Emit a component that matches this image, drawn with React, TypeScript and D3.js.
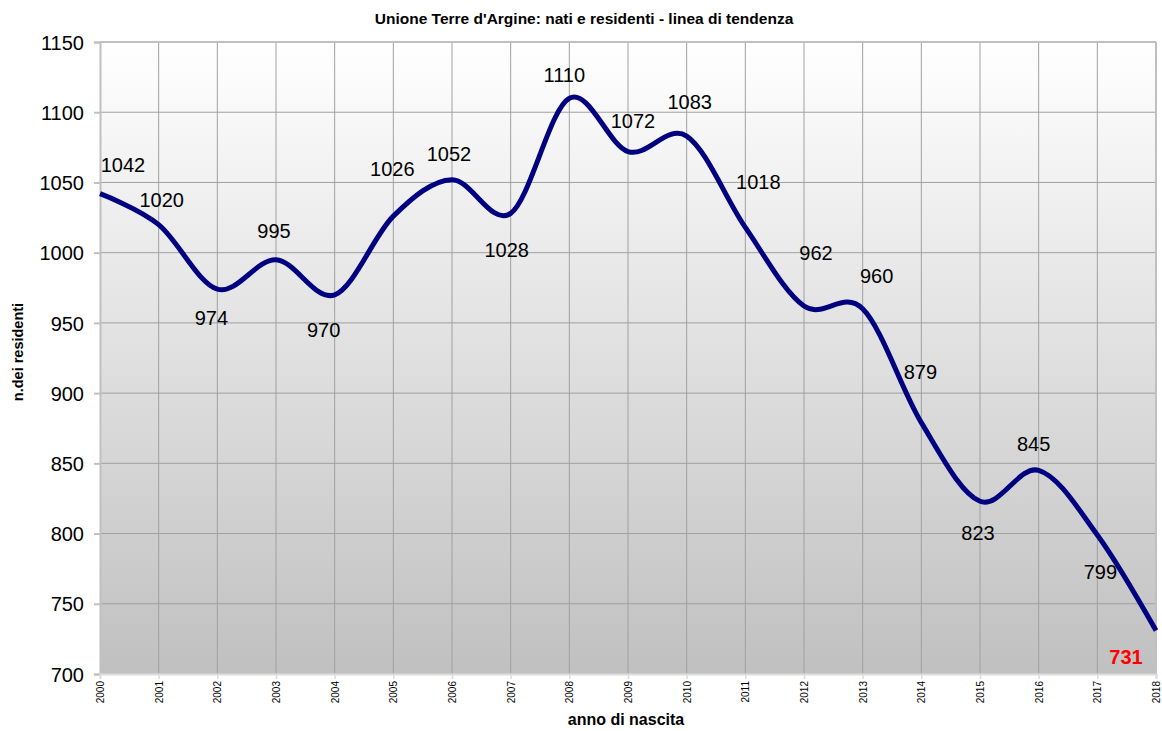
import React, { useEffect, useRef } from 'react';
import * as d3 from 'd3';

// Data
const years = [2000, 2001, 2002, 2003, 2004, 2005, 2006, 2007, 2008, 2009, 2010, 2011, 2012, 2013, 2014, 2015, 2016, 2017, 2018];
const residents = [1042, 1020, 974, 995, 970, 1026, 1052, 1028, 1110, 1072, 1083, 1018, 962, 960, 879, 823, 845, 799, 731];
const yTicks = [700, 750, 800, 850, 900, 950, 1000, 1050, 1100, 1150];

// where each value label sits relative to its point (dx, dy)
const labelOffsets = [
  [23, -22], [3, -18], [-6, 36], [-2, -22], [-11, 42], [-1, -40], [-3, -19],
  [-4, 44], [-5, -16], [5, -24], [3, -27], [13, -38], [12, -46], [14, -26],
  [-1, -44], [-2, 39], [-5, -19], [3, 44], [-30, 34]
];

const App = () => {
  const chartRef = useRef<SVGSVGElement>(null);

  useEffect(() => {
    const margin = { top: 42, right: 6, bottom: 57, left: 100 };
    const W = 1162;
    const H = 731;
    const width = W - margin.left - margin.right;
    const height = H - margin.top - margin.bottom;
    const font = 'Arial, "Liberation Sans", sans-serif';

    const root = d3.select(chartRef.current);
    root.selectAll('*').remove();

    const defs = root.append('defs');
    const grad = defs.append('linearGradient')
      .attr('id', 'bg')
      .attr('x1', 0).attr('y1', 0).attr('x2', 0).attr('y2', 1);
    grad.append('stop').attr('offset', '0%').attr('stop-color', '#ffffff');
    grad.append('stop').attr('offset', '100%').attr('stop-color', '#c0c0c0');

    const svg = root.append('g')
      .attr('transform', `translate(${margin.left},${margin.top})`);

    const x = d3.scaleLinear().domain([2000, 2018]).range([0, width]);
    const y = d3.scaleLinear().domain([700, 1150]).range([height, 0]);

    // Plot background
    svg.append('rect')
      .attr('width', width)
      .attr('height', height)
      .attr('fill', 'url(#bg)');

    // Grid
    svg.append('g')
      .selectAll('line')
      .data(years.slice(1, -1))
      .enter()
      .append('line')
      .attr('x1', d => x(d)).attr('x2', d => x(d))
      .attr('y1', 0).attr('y2', height)
      .attr('stroke', '#a0a0a0')
      .attr('stroke-width', 1);

    svg.append('g')
      .selectAll('line')
      .data(yTicks.slice(1, -1))
      .enter()
      .append('line')
      .attr('x1', 0).attr('x2', width)
      .attr('y1', d => y(d)).attr('y2', d => y(d))
      .attr('stroke', '#a0a0a0')
      .attr('stroke-width', 1);

    // Border
    svg.append('line').attr('x1', 0).attr('x2', width).attr('y1', 0).attr('y2', 0)
      .attr('stroke', '#c0c0c0').attr('stroke-width', 2);
    svg.append('line').attr('x1', width).attr('x2', width).attr('y1', 0).attr('y2', height)
      .attr('stroke', '#c0c0c0').attr('stroke-width', 2);

    // Y axis
    const yAxis = svg.append('g')
      .call(d3.axisLeft(y).tickValues(yTicks).tickFormat(d3.format('d')).tickSize(6).tickPadding(10));
    yAxis.select('.domain').attr('stroke', '#c0c0c0').attr('stroke-width', 2);
    yAxis.selectAll('line').attr('stroke', '#c0c0c0').attr('stroke-width', 2);
    yAxis.selectAll('text')
      .attr('fill', '#000')
      .attr('font-family', font)
      .attr('font-size', '20px')
      .attr('dy', '0.36em');

    // X axis
    const xAxis = svg.append('g')
      .attr('transform', `translate(0,${height})`)
      .call(d3.axisBottom(x).tickValues(years).tickFormat(d3.format('d')).tickSize(5));
    xAxis.select('.domain').attr('stroke', '#dcdcdc').attr('stroke-width', 2);
    xAxis.selectAll('line').attr('stroke', '#dcdcdc').attr('stroke-width', 1.5);
    xAxis.selectAll('text')
      .attr('fill', '#000')
      .attr('font-family', font)
      .attr('font-size', '10px')
      .attr('transform', 'rotate(-90)')
      .attr('text-anchor', 'end')
      .attr('x', -7)
      .attr('y', 0)
      .attr('dy', '0.35em');

    // Line
    const line = d3.line<number>()
      .x((d, i) => x(years[i]))
      .y(d => y(d))
      .curve(d3.curveCardinal.tension(0));

    svg.append('path')
      .datum(residents)
      .attr('d', line)
      .attr('fill', 'none')
      .attr('stroke', '#000080')
      .attr('stroke-width', 5)
      .attr('stroke-linejoin', 'round');

    // Value labels
    svg.append('g')
      .selectAll('text')
      .data(residents)
      .enter()
      .append('text')
      .attr('x', (d, i) => x(years[i]) + labelOffsets[i][0])
      .attr('y', (d, i) => y(d) + labelOffsets[i][1])
      .attr('text-anchor', 'middle')
      .attr('font-family', font)
      .attr('font-size', '20px')
      .attr('font-weight', (d, i) => i === residents.length - 1 ? 'bold' : 'normal')
      .attr('fill', (d, i) => i === residents.length - 1 ? '#ff0000' : '#000')
      .text(d => d);

    // Title
    root.append('text')
      .attr('x', 584)
      .attr('y', 24)
      .attr('text-anchor', 'middle')
      .attr('font-family', font)
      .attr('font-size', '15.5px')
      .attr('font-weight', 'bold')
      .text("Unione Terre d'Argine: nati e residenti - linea di tendenza");

    // X axis label
    root.append('text')
      .attr('x', 626)
      .attr('y', 725)
      .attr('text-anchor', 'middle')
      .attr('font-family', font)
      .attr('font-size', '16px')
      .attr('font-weight', 'bold')
      .text('anno di nascita');

    // Y axis label
    root.append('text')
      .attr('transform', 'rotate(-90)')
      .attr('x', -352)
      .attr('y', 23)
      .attr('text-anchor', 'middle')
      .attr('font-family', font)
      .attr('font-size', '14.5px')
      .attr('font-weight', 'bold')
      .text('n.dei residenti');
  }, []);

  return (
    <svg ref={chartRef} width={1162} height={731}
      style={{ position: 'absolute', left: 0, top: 0, background: '#fff' }} />
  );
};

export default App;
